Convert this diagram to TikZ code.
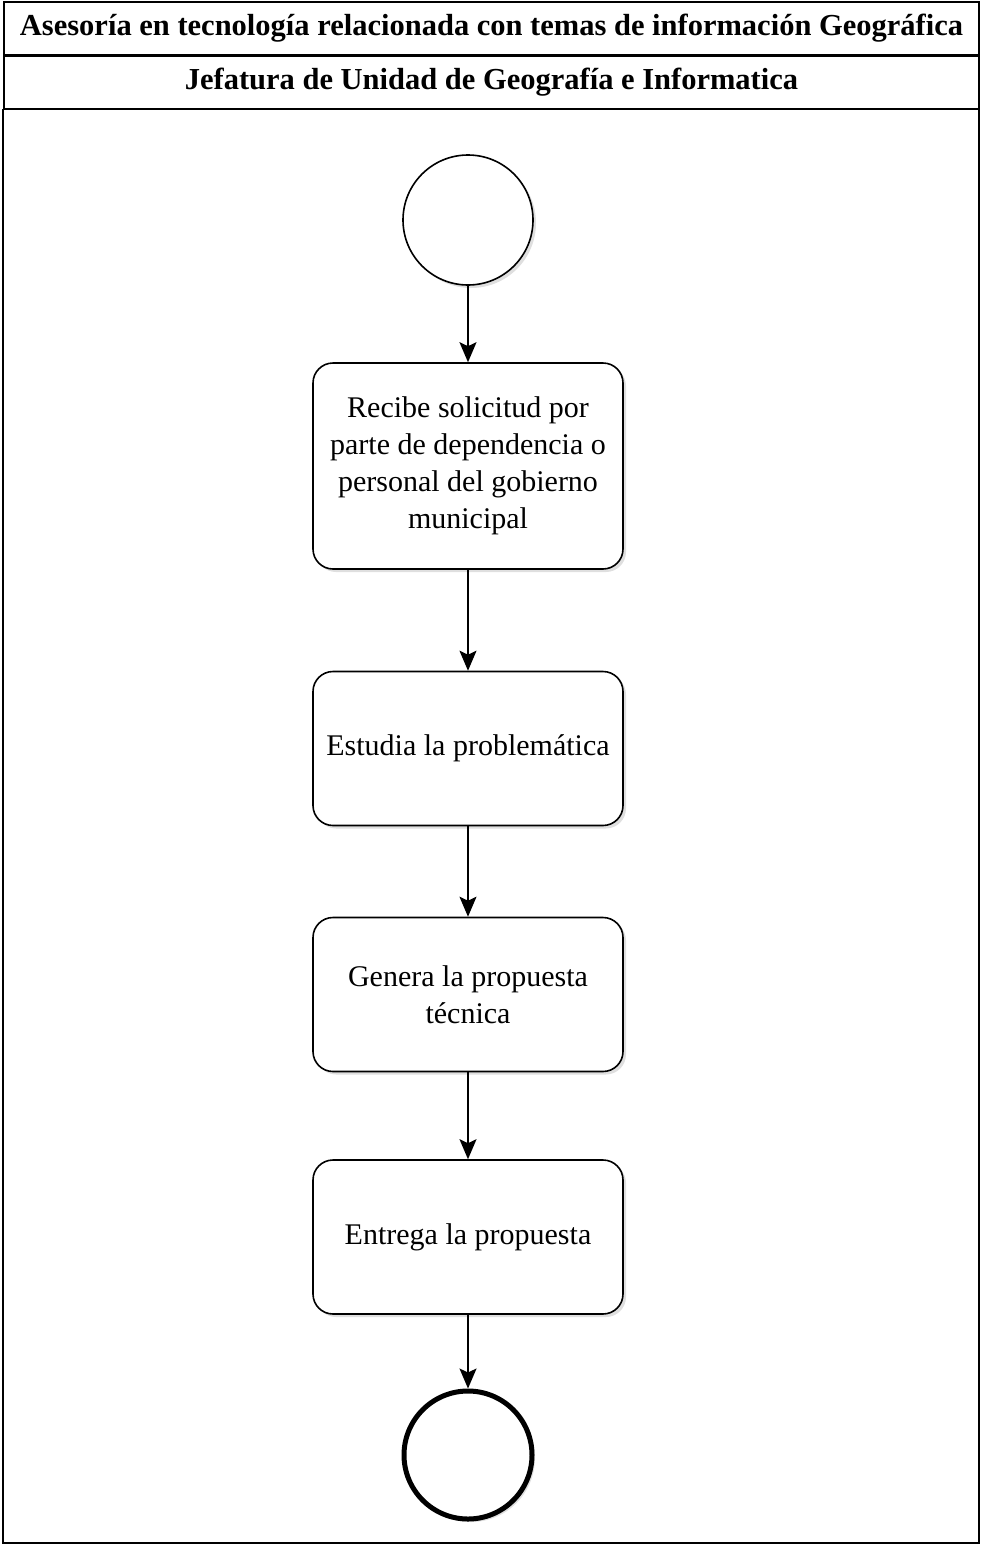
\documentclass[tikz,border=0pt]{standalone}
\usepackage{fontspec}
\setmainfont{Liberation Serif}
\usepackage{tikz}
\usetikzlibrary{arrows.meta, positioning, shapes, shadows}

\begin{document}
\begin{tikzpicture}[x=1pt, y=1pt, node distance=246pt,
  sombra/.style={drop shadow={opacity=0.25, shadow xshift=3pt, shadow yshift=-3pt}},
  paso/.style={draw, rounded corners=20pt, line width=1.6pt, fill=white, sombra,
               minimum width=310pt, minimum height=154pt, align=center,
               font=\fontsize{30}{37}\selectfont},
  inicio/.style={draw, circle, line width=1.6pt, fill=white, sombra, minimum size=130pt},
  fin/.style={draw, circle, line width=5pt, fill=white, sombra, minimum size=128pt},
  fila/.style={draw, line width=1.6pt, minimum width=975pt, inner sep=0pt,
               font=\bfseries\fontsize{30.5}{34}\selectfont},
  flecha/.style={draw, line width=1.6pt, -{Stealth[length=20pt, width=17pt, inset=4pt]}}]

\useasboundingbox (0,0) rectangle (986,-1547);

\node [fila, minimum height=53pt] (titulo) at (491.5,-28.5)
      {Asesoría en tecnología relacionada con temas de información Geográfica};
\node [fila, minimum height=52pt, below=0pt of titulo] (carril)
      {Jefatura de Unidad de Geografía e Informatica};
\draw [line width=1.6pt] (carril.south west) rectangle (979,-1543);

\node [inicio                                  ] (s) at (468,-220) {};
\node [paso, minimum height=206pt, below of=s  ] (r) {Recibe solicitud por\\parte de dependencia o\\personal del gobierno\\municipal};
\node [paso, below of=r, yshift=-36.5pt        ] (e) {Estudia la problemática};
\node [paso, below of=e                        ] (g) {Genera la propuesta\\técnica};
\node [paso, below of=g, yshift=3.5pt          ] (p) {Entrega la propuesta};
\node [fin , below of=p, yshift=28pt           ] (f) {};

\path [flecha] (s) edge (r);
\path [flecha] (r) edge (e);
\path [flecha] (e) edge (g);
\path [flecha] (g) edge (p);
\path [flecha] (p) edge (f);

\end{tikzpicture}
\end{document}
